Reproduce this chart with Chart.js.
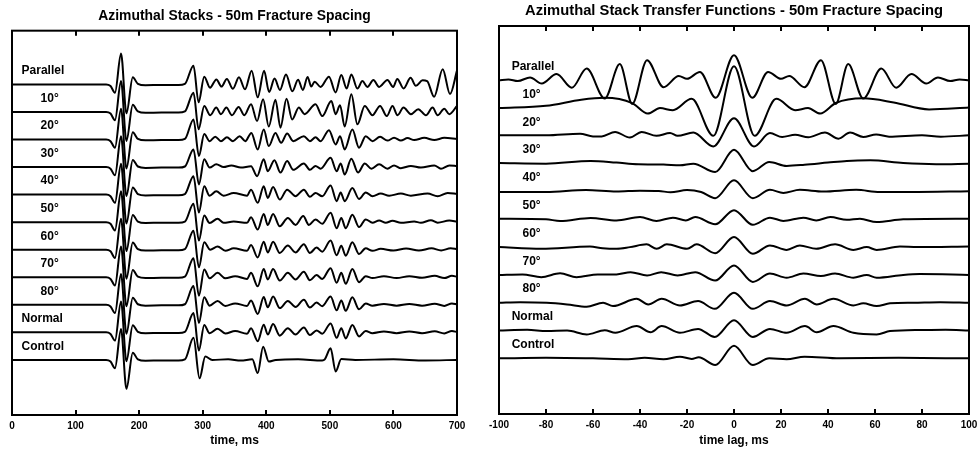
<!DOCTYPE html>
<html>
<head>
<meta charset="utf-8">
<script src="https://cdn.jsdelivr.net/npm/chart.js@4.4.1/dist/chart.umd.min.js"></script>
<style>
  html, body { margin: 0; padding: 0; background: #fff; }
  #wrap { display: flex; width: 979px; height: 450px; }
  canvas { display: block; }
</style>
</head>
<body>
<div id="wrap">
  <canvas id="stacks" width="480" height="450"></canvas>
  <canvas id="transfer" width="499" height="450"></canvas>
</div>
<script>
// trace names, top to bottom
const traceNames = ['Parallel', '10°', '20°', '30°', '40°', '50°', '60°', '70°', '80°', 'Normal', 'Control'];

const stackTicks = [0, 100, 200, 300, 400, 500, 600, 700];
const transferTicks = [-100, -80, -60, -40, -20, 0, 20, 40, 60, 80, 100];

// [time ms, amplitude in trace spacings]
// direct arrival, the same on every stack
const directWave = [[0,0],[148,0],[155,-0.06],[162,-0.3],[171.5,1.12],[180,-1.05],[190,0.26],[198,0.02],[210,-0.03],[235,-0.02],[262,-0.02]];

const stackParallel = [[272,0.02],[285.5,0.68],[293.5,-0.65],[302.4,0.28],[311.5,-0.12],[321.5,0.18],[329.5,-0.08],[338,0.2],[347.5,-0.16],[357,0.26],[366.5,-0.18],[377,0.5],[386.5,-0.47],[396.5,0.5],[404.5,-0.28],[413,0.21],[421.5,-0.2],[431,0.36],[441,-0.25],[450,0.17],[457.5,-0.2],[465,0.27],[470.7,-0.08],[476,0.1],[485.4,-0.09],[498.6,0.28],[509,-0.29],[518,0.34],[526.4,-0.15],[533.8,0.36],[543.3,-0.15],[551.2,0.12],[559,-0.09],[568.5,0.16],[577.5,-0.09],[590.6,0.16],[599.6,-0.09],[606,0.2],[616,-0.15],[627,0.24],[635.3,-0.05],[645.9,0.15],[653,0.12],[664,-0.45],[677.5,0.55],[689,-0.35],[700,0.5]];
const stack10 = [[272,0.02],[285.5,0.7],[293.5,-0.63],[302.4,0.22],[311.8,-0.12],[321.3,0.16],[328.7,-0.08],[337.1,0.16],[346,-0.12],[356.5,0.18],[365.5,-0.12],[376,0.28],[385.5,-0.33],[395,0.46],[403.9,-0.53],[414.4,0.44],[422.3,-0.57],[431.8,0.48],[440.7,-0.27],[451.2,0.16],[460.2,-0.08],[477.5,0.28],[488,-0.15],[502.3,0.4],[509.1,-0.08],[516,0.24],[523.3,-0.53],[533.8,0.64],[543.3,-0.45],[554.9,0.22],[567,-0.12],[579,0.22],[589.6,-0.15],[598.5,0.22],[606.4,-0.12],[615.9,0.16],[627.4,-0.08],[639,0.1],[651.1,-0.12],[661.6,0.16],[669.5,-0.12],[680,0.12],[687.9,-0.08],[700,0.22]];
const stack20 = [[272,0.02],[285.5,0.73],[294,-0.6],[302.4,0.2],[310.8,-0.06],[319.7,0.1],[328.7,-0.06],[338.1,0.08],[347.6,-0.06],[358.1,0.12],[367,-0.06],[376.5,0.24],[386.5,-0.36],[396,0.36],[403.9,-0.24],[414.4,0.24],[423.4,-0.12],[432.8,0.22],[442.3,-0.06],[459.1,0.12],[468.6,-0.06],[477.5,0.08],[485.4,-0.06],[498.6,0.34],[509.1,-0.18],[516,0.12],[523.3,-0.36],[535.4,0.36],[545.9,-0.3],[556.4,0.12],[567,-0.06],[579,0.1],[590.6,-0.04],[601,0.06],[611.7,-0.04],[622.2,0.05],[632.7,-0.02],[648.5,0.06],[664.3,-0.02],[680,0.06],[700,0.02]];
const stack30 = [[272,0.02],[285.5,0.64],[294,-0.63],[302.4,0.28],[310.8,-0.02],[321.3,0.1],[332.9,0],[345,0.06],[360,-0.02],[376,0.03],[385.5,-0.33],[396,0.28],[402.3,-0.15],[412.8,0.25],[422.3,-0.2],[432.8,0.22],[442.3,-0.1],[459.1,0.13],[468.6,-0.1],[477.5,0.04],[485.4,-0.06],[501.2,0.34],[510.7,-0.15],[517,0.13],[523.3,-0.27],[533.8,0.3],[544.3,-0.2],[554.9,0.13],[565.4,-0.06],[577.5,0.1],[590.6,-0.06],[601,0.06],[611.7,-0.04],[627.4,0.04],[643.2,-0.02],[664.3,0.06],[674.8,-0.06],[687.9,0.06],[700,0.04]];
const stack40 = [[272,0.02],[285.5,0.67],[294,-0.65],[302.4,0.3],[310.8,-0.04],[321.3,0.12],[332.9,-0.04],[348.7,0.06],[369.7,-0.04],[376,0.18],[386.5,-0.3],[396,0.3],[402.3,-0.12],[410.7,0.28],[421.2,-0.18],[432.8,0.18],[446,-0.06],[459.1,0.18],[468.6,-0.08],[477.5,0.06],[488,-0.06],[501.2,0.33],[510.7,-0.24],[517,0.08],[523.3,-0.24],[535.4,0.24],[545.9,-0.16],[556.4,0.08],[567,-0.06],[580,0.04],[593.3,-0.04],[611.7,0.04],[627.4,-0.04],[653.7,0.04],[669.5,-0.06],[685.3,0.06],[700,0.02]];
const stack50 = [[272,0.02],[285.5,0.67],[294,-0.67],[302.4,0.24],[310.8,-0.03],[323.4,0.12],[332.9,-0.02],[348.7,0.02],[369.7,-0.02],[376,0.18],[386.5,-0.27],[396,0.3],[402.3,-0.1],[410.7,0.3],[421.2,-0.15],[433.9,0.15],[446,-0.1],[458.1,0.22],[467,-0.1],[477.5,0.1],[488,-0.06],[501.2,0.34],[510.7,-0.22],[518,0.15],[524.9,-0.22],[535.4,0.27],[545.9,-0.18],[556.4,0.1],[567,-0.02],[577.5,0.06],[588,-0.02],[598.5,0.05],[611.7,-0.02],[632.7,0.02],[643.2,-0.02],[659,0.07],[669.5,-0.02],[687.9,0.06],[700,0.02]];
const stack60 = [[272,0.02],[285.5,0.69],[294,-0.64],[302.4,0.27],[311.8,0],[323.4,0.12],[335.5,-0.04],[348.7,0.05],[369.7,-0.04],[376,0.17],[386.5,-0.28],[396,0.29],[402.3,-0.1],[410.7,0.29],[421.2,-0.12],[433.9,0.15],[446,-0.1],[459.1,0.2],[468.6,-0.12],[479.1,0.08],[488,-0.07],[501.2,0.33],[510.7,-0.2],[518,0.14],[524.9,-0.22],[535.4,0.27],[545.9,-0.16],[556.4,0.05],[567,-0.04],[580,0.03],[600,-0.03],[620,0.04],[640,-0.03],[660,0.05],[675,-0.03],[690,0.05],[700,0.02]];
const stack70 = [[272,0.02],[285.5,0.69],[294,-0.67],[302.4,0.28],[310.8,-0.04],[323.4,0.16],[335.5,-0.04],[351,0.04],[369.7,-0.06],[376,0.16],[386.5,-0.33],[396,0.3],[402.3,-0.08],[410.7,0.3],[421.2,-0.12],[433.9,0.16],[446,-0.08],[459.1,0.2],[468.6,-0.11],[479.1,0.08],[488,-0.06],[501.2,0.33],[510.7,-0.2],[518,0.16],[524.9,-0.24],[535.4,0.3],[545.9,-0.18],[556.4,0.04],[567,-0.03],[585,0.04],[605,-0.03],[625,0.04],[645,-0.02],[665,0.05],[680,-0.03],[692,0.05],[700,0.02]];
const stack80 = [[272,0.02],[285.5,0.68],[294,-0.66],[302.4,0.27],[310.8,-0.03],[323.4,0.14],[335.5,-0.04],[351,0.05],[369.7,-0.04],[376,0.16],[386.5,-0.33],[396,0.28],[402.3,-0.09],[410.7,0.3],[421.2,-0.12],[433.9,0.14],[446,-0.08],[459.1,0.18],[468.6,-0.1],[479.1,0.08],[488,-0.05],[501.2,0.3],[510.7,-0.2],[518,0.16],[524.9,-0.22],[535.4,0.27],[545.9,-0.16],[556.4,0.05],[567,-0.03],[585,0.03],[605,-0.03],[625,0.03],[645,-0.03],[665,0.04],[680,-0.04],[692,0.05],[700,0.01]];
const stackNormal = [[272,0.02],[285.5,0.7],[294,-0.66],[302.4,0.27],[310.8,-0.03],[323.4,0.13],[335.5,-0.04],[351,0.05],[369.7,-0.05],[376,0.15],[386.5,-0.32],[396,0.28],[402.3,-0.08],[410.7,0.3],[421.2,-0.12],[433.9,0.15],[446,-0.08],[459.1,0.18],[468.6,-0.1],[479.1,0.07],[488,-0.05],[501.2,0.32],[510.7,-0.2],[518,0.15],[524.9,-0.22],[535.4,0.27],[545.9,-0.15],[556.4,0.05],[567,-0.03],[585,0.03],[605,-0.03],[625,0.03],[645,-0.03],[665,0.04],[680,-0.04],[692,0.05],[700,0.01]];
const stackControl = [[272,0.02],[285.5,0.8],[295,-0.67],[304,0.12],[315,0],[340,0.02],[360,-0.02],[378,0.02],[386.5,-0.48],[395,0.48],[403.9,-0.06],[415,0],[450,0.02],[488,-0.02],[492,0.02],[501.2,0.42],[509.1,-0.42],[518,0.03],[540,0],[600,0.02],[650,-0.02],[700,0]];

// [time lag ms, amplitude in trace spacings]
const transferParallel = [[-100,0],[-96,0.03],[-92,-0.03],[-86.8,0.1],[-81.8,-0.12],[-75.5,0.22],[-69,-0.27],[-62.7,0.42],[-55,-0.66],[-48.6,0.58],[-43.3,-0.85],[-37,0.72],[-30,-0.25],[-23.5,0.15],[-20,0.05],[-14.5,0.3],[-7.8,-0.63],[0,0.9],[7.8,-0.63],[14.5,0.3],[20,0.05],[23.5,0.15],[30,-0.25],[37,0.72],[43.3,-0.85],[48.6,0.58],[55,-0.66],[62.7,0.42],[69,-0.27],[75.5,0.22],[81.8,-0.12],[86.8,0.1],[92,-0.03],[96,0.03],[100,0]];
const transfer10 = [[-100,0],[-80,0.08],[-65,0.3],[-55,0.37],[-43.3,0.18],[-36.7,-0.2],[-31.5,0],[-26,-0.08],[-18,0.33],[-8.8,-1.0],[0,1.5],[8.8,-1.0],[18,0.33],[26,-0.08],[31.5,0],[36.7,-0.2],[43.3,0.18],[55,0.35],[68,0.2],[83,-0.05],[100,0.02]];
const transfer20 = [[-100,0.02],[-80,0.02],[-65.5,0.08],[-60,-0.02],[-56.3,-0.02],[-50.6,0.14],[-44.3,-0.06],[-39.3,0.14],[-33,0],[-27.2,0.1],[-24,0],[-17.3,0.12],[-8.8,-0.38],[0,0.63],[8.5,-0.38],[15.3,0.1],[20.5,-0.04],[26,0.04],[31.6,-0.05],[38.7,0.12],[44.5,-0.1],[49.4,0.12],[55,-0.04],[60.5,0.05],[66,-0.03],[80,0.02],[88,-0.03],[100,0.02]];
const transfer30 = [[-100,0.02],[-80,0],[-61,0.1],[-50,0.04],[-40.7,-0.02],[-30,-0.03],[-23,-0.06],[-17.3,0.0],[-8,-0.3],[0,0.5],[8,-0.27],[15,0.06],[22.4,-0.08],[30,-0.04],[40,0.04],[48,0.1],[58,0.12],[72,0.02],[86,-0.02],[100,0]];
const transfer40 = [[-100,-0.02],[-80,-0.02],[-63,0.05],[-50,0],[-40,0.03],[-32,0.02],[-27,-0.03],[-20,0.05],[-14,-0.02],[-8,-0.24],[0,0.4],[8,-0.24],[15.3,0.06],[21,-0.05],[28,0.06],[38,0],[52,0.06],[62,-0.02],[75,-0.02],[100,0.01]];
const transfer50 = [[-100,0.02],[-80,0],[-74,-0.06],[-61,0.05],[-50,-0.04],[-40,0.08],[-33,-0.06],[-26,0.06],[-20.5,-0.04],[-16.5,0.08],[-8,-0.18],[0,0.33],[8,-0.2],[15.3,0.06],[21,-0.06],[29.5,0.06],[35,-0.04],[41,0.08],[48,-0.02],[53.6,0.02],[60.7,-0.1],[72,0],[100,0.02]];
const transfer60 = [[-100,0],[-82,-0.06],[-61.3,0.02],[-55.9,-0.04],[-49.9,-0.06],[-44.3,0],[-37.2,0.1],[-32.9,-0.06],[-28.6,0.1],[-20,-0.06],[-15.9,0.1],[-8,-0.22],[0,0.36],[8,-0.24],[15.3,0.06],[22.4,-0.1],[28,0.06],[35,-0.06],[43,0.1],[50.8,-0.1],[56.5,0],[60.7,-0.1],[70.6,0.02],[78,0],[100,0.02]];
const transfer70 = [[-100,0],[-90,0.02],[-82,-0.08],[-74,0.06],[-67,-0.08],[-58,0.02],[-50,0.02],[-44,0.1],[-37,-0.02],[-31,0.1],[-24,-0.02],[-16.5,0.1],[-8,-0.2],[0,0.34],[8,-0.25],[15.3,0.05],[22.4,-0.1],[29.5,0.05],[37,-0.04],[43,0.05],[50.8,-0.1],[56.5,0],[60.7,-0.1],[72,0],[79,0.03],[100,0]];
const transfer80 = [[-100,0],[-91,0.02],[-79.7,0],[-71,-0.06],[-62.7,-0.14],[-55.7,0],[-51.5,-0.12],[-41.4,0.14],[-36.5,-0.06],[-30.8,0.14],[-23,-0.1],[-15.3,0.06],[-8.2,-0.22],[0,0.36],[8,-0.22],[15.3,0.06],[22.4,-0.1],[30.2,0.14],[35.2,-0.06],[42.3,0.14],[50.8,-0.1],[55,-0.02],[60.7,-0.12],[66.4,-0.02],[76.3,0],[87.7,0.02],[100,0]];
const transferNormal = [[-100,0],[-88,0.03],[-79.7,-0.02],[-71,0],[-62.7,-0.14],[-55,0.01],[-50.5,-0.08],[-41.4,0.16],[-35.5,-0.06],[-30.8,0.16],[-23,-0.08],[-15.3,0.06],[-8.2,-0.23],[0,0.37],[8,-0.23],[15.3,0.06],[22.4,-0.08],[30.2,0.16],[35.2,-0.06],[42.3,0.16],[50.8,-0.08],[60.7,-0.14],[66.4,-0.02],[80,0.02],[90,0.03],[100,0]];
const transferControl = [[-100,0],[-80,0.02],[-60,0],[-45,-0.03],[-38,0.02],[-30,-0.03],[-23,0.06],[-18,-0.02],[-15,0.04],[-8,-0.24],[0,0.45],[8,-0.24],[15,0],[22.4,-0.03],[30,0.06],[45,0],[70,0.02],[100,0]];

const stackTraces = [stackParallel, stack10, stack20, stack30, stack40, stack50, stack60, stack70, stack80, stackNormal, stackControl]
  .map(coda => directWave.concat(coda));
const transferTraces = [transferParallel, transfer10, transfer20, transfer30, transfer40, transfer50, transfer60, transfer70, transfer80, transferNormal, transferControl];

Chart.defaults.font.family = "'Liberation Sans', Arial, sans-serif";
Chart.defaults.font.weight = 'bold';
Chart.defaults.color = '#000';

function makeDatasets(traces) {
  return traces.map((pts, i) => ({
    label: traceNames[i],
    data: pts.map(p => ({ x: p[0], y: p[1] - i })),
    borderColor: '#000',
    borderWidth: 2,
    pointRadius: 0,
    fill: false,
    cubicInterpolationMode: 'monotone'
  }));
}

// frame, inward tick marks and trace names
const framePlugin = {
  id: 'frame',
  afterDraw(chart, args, opts) {
    const ctx = chart.ctx;
    const a = chart.chartArea;
    const xs = chart.scales.x, ys = chart.scales.y;
    ctx.save();
    ctx.strokeStyle = '#000';
    ctx.lineWidth = 2;
    ctx.strokeRect(a.left, a.top, a.right - a.left, a.bottom - a.top);
    ctx.beginPath();
    opts.ticks.slice(1, -1).forEach(v => {
      const px = Math.round(xs.getPixelForValue(v));
      ctx.moveTo(px, a.top); ctx.lineTo(px, a.top + 5);
      ctx.moveTo(px, a.bottom); ctx.lineTo(px, a.bottom - 5);
    });
    ctx.stroke();
    ctx.fillStyle = '#000';
    ctx.font = "bold 12px 'Liberation Sans', Arial, sans-serif";
    ctx.textBaseline = 'middle';
    ctx.textAlign = 'left';
    traceNames.forEach((name, i) => {
      const deg = name.indexOf('°') >= 0;
      const lx = xs.getPixelForValue(deg ? opts.degX : opts.wordX);
      const ly = ys.getPixelForValue(-i + 0.49);
      ctx.fillText(name, lx, ly);
    });
    ctx.restore();
  }
};

function makeChart(id, traces, cfg) {
  return new Chart(document.getElementById(id), {
    type: 'line',
    data: { datasets: makeDatasets(traces) },
    plugins: [framePlugin],
    options: {
      responsive: false,
      animation: false,
      devicePixelRatio: 1,
      events: [],
      layout: { padding: { left: cfg.padLeft, right: cfg.padRight, top: 0, bottom: 0 } },
      plugins: {
        legend: { display: false },
        tooltip: { enabled: false },
        title: {
          display: true,
          text: cfg.title,
          font: { size: cfg.titleSize, weight: 'bold' },
          padding: { top: cfg.titleTop, bottom: cfg.titleBottom }
        },
        frame: { ticks: cfg.ticks, degX: cfg.degX, wordX: cfg.wordX }
      },
      scales: {
        x: {
          type: 'linear',
          min: cfg.ticks[0],
          max: cfg.ticks[cfg.ticks.length - 1],
          afterBuildTicks: s => { s.ticks = cfg.ticks.map(v => ({ value: v })); },
          afterFit: s => { s.height = cfg.axisHeight; s.paddingLeft = 0; s.paddingRight = 0; },
          grid: { display: false, drawTicks: false },
          border: { display: false },
          ticks: { autoSkip: false, maxRotation: 0, padding: 5, font: { size: 10, weight: 'bold' } },
          title: { display: true, text: cfg.axisTitle, font: { size: 12, weight: 'bold' }, padding: { top: 0, bottom: 2 } }
        },
        y: { type: 'linear', display: false, min: -12, max: 1.95 }
      }
    }
  });
}

makeChart('stacks', stackTraces, {
  title: 'Azimuthal Stacks - 50m Fracture Spacing',
  titleSize: 13.9, titleTop: 8, titleBottom: 6,
  padLeft: 12, padRight: 23, axisHeight: 35,
  ticks: stackTicks, axisTitle: 'time, ms',
  degX: 45, wordX: 15
});

makeChart('transfer', transferTraces, {
  title: 'Azimuthal Stack Transfer Functions - 50m Fracture Spacing',
  titleSize: 14.75, titleTop: 2, titleBottom: 6.3,
  padLeft: 19, padRight: 10, axisHeight: 36,
  ticks: transferTicks, axisTitle: 'time lag, ms',
  degX: -90, wordX: -94.6
});
</script>
</body>
</html>
